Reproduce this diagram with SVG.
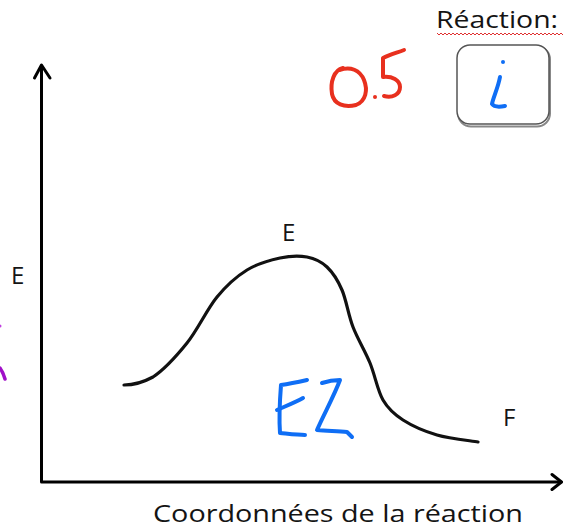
<svg xmlns="http://www.w3.org/2000/svg" width="563" height="529" viewBox="0 0 563 529">
<style>
.axis{fill:none;stroke:#000;stroke-width:3;stroke-linecap:round;stroke-linejoin:round}
.curve{fill:none;stroke:#111;stroke-width:3.2;stroke-linecap:round}
.lbl{font-family:"Open Sans","Liberation Sans",Arial,sans-serif;fill:#141414}
.blue{fill:none;stroke:#0f6ef5;stroke-width:4;stroke-linecap:round;stroke-linejoin:round}
.red{fill:none;stroke:#e8301e;stroke-width:4;stroke-linecap:round;stroke-linejoin:round}
.purple{fill:none;stroke:#a010c8;stroke-width:3.5;stroke-linecap:round}
</style>
<rect width="563" height="529" fill="#fff"/>
<g id="connectors">
  <path class="axis" d="M41.5,66 V482 H561"/>
  <path class="axis" d="M34.5,78 L41.5,65 L50,78"/>
  <path class="axis" d="M552,474.5 L561.5,482 L552,489.5"/>
  <path class="curve" d="M124,385 C132,385 142,383 153,377 C163.5,370 176.3,356.3 187,343 C197.7,329.7 207,309.2 217,297 C227,284.8 236.5,276.5 247,270 C257.5,263.5 270,260.2 280,258 C290,255.8 299.2,255.5 307,257 C314.8,258.5 321.2,261.5 327,267 C332.8,272.5 337.7,280 342,290 C346.3,300 348.3,314.8 353,327 C357.7,339.2 365,350.8 370,363 C375,375.2 377.5,390.5 383,400 C388.5,409.5 394,414.2 403,420 C412,425.8 424.5,431.3 437,435 C449.5,438.7 471.2,440.8 478,442"/>
</g>
<g id="label-E-axis"><text class="lbl" x="11" y="284" font-size="24">E</text></g>
<g id="label-E-top"><text class="lbl" x="282" y="241" font-size="24">E</text></g>
<g id="label-F"><text class="lbl" x="503" y="426" font-size="24">F</text></g>
<g id="label-x"><text class="lbl" x="153" y="522" font-size="24" textLength="370" lengthAdjust="spacingAndGlyphs">Coordonnées de la réaction</text></g>
<g id="reaction-title">
  <text class="lbl" x="436" y="28" font-size="24" textLength="122" lengthAdjust="spacingAndGlyphs">Réaction:</text>
  <path d="M437,33 l2,2 l2,-2 l2,2 l2,-2 l2,2 l2,-2 l2,2 l2,-2 l2,2 l2,-2 l2,2 l2,-2 l2,2 l2,-2 l2,2 l2,-2 l2,2 l2,-2 l2,2 l2,-2 l2,2 l2,-2 l2,2 l2,-2 l2,2 l2,-2 l2,2 l2,-2 l2,2 l2,-2 l2,2 l2,-2 l2,2 l2,-2 l2,2 l2,-2 l2,2 l2,-2 l2,2 l2,-2 l2,2 l2,-2 l2,2 l2,-2 l2,2 l2,-2 l2,2 l2,-2 l2,2 l2,-2 l2,2 l2,-2 l2,2 l2,-2 l2,2 l2,-2 l2,2 l2,-2 l2,2 l2,-2 l2,2 l2,-2 l2,2 l2,-2 l2,2" fill="none" stroke="#e03030" stroke-width="1"/>
</g>
<g id="reaction-box">
  <rect x="458" y="46.5" width="92" height="80" rx="13" fill="none" stroke="#888" stroke-width="2"/>
  <rect x="457" y="45" width="92" height="79" rx="13" fill="#fff" stroke="#555" stroke-width="1.5"/>
  <circle cx="503" cy="62" r="2" fill="#0f6ef5"/>
  <path class="blue" d="M500,77 C498,88 493,98 492,104 C494,107 500,107 505,106"/>
</g>
<g id="mark-05">
  <path class="red" d="M343,68 C334,70 330,82 332,94 C334,104 344,108 356,105 C366,101 368,90 364,80 C360,70 350,66 340,70"/>
  <circle cx="375" cy="97" r="2" fill="#e8301e"/>
  <path class="red" d="M404,50 C396,53 389,55 383,58 L383,77 C392,76 400,80 400,87 C400,95 392,98 384,96"/>
</g>
<g id="mark-E2">
  <path class="blue" d="M307,380 C298,382 288,384 281,385 C280,398 279,420 280,433 C290,434 298,435 305,435"/>
  <path class="blue" d="M277,410 C286,406 296,402 303,398"/>
  <path class="blue" d="M322,383 C328,381 334,380 340,380 C334,396 324,414 317,430 C327,431 338,431 347,432 L352,437"/>
</g>
<g id="mark-purple">
  <path class="purple" d="M0,368 Q3,372 5,379"/>
  <circle cx="0" cy="326" r="1.5" fill="#c040e0"/>
</g>
</svg>
